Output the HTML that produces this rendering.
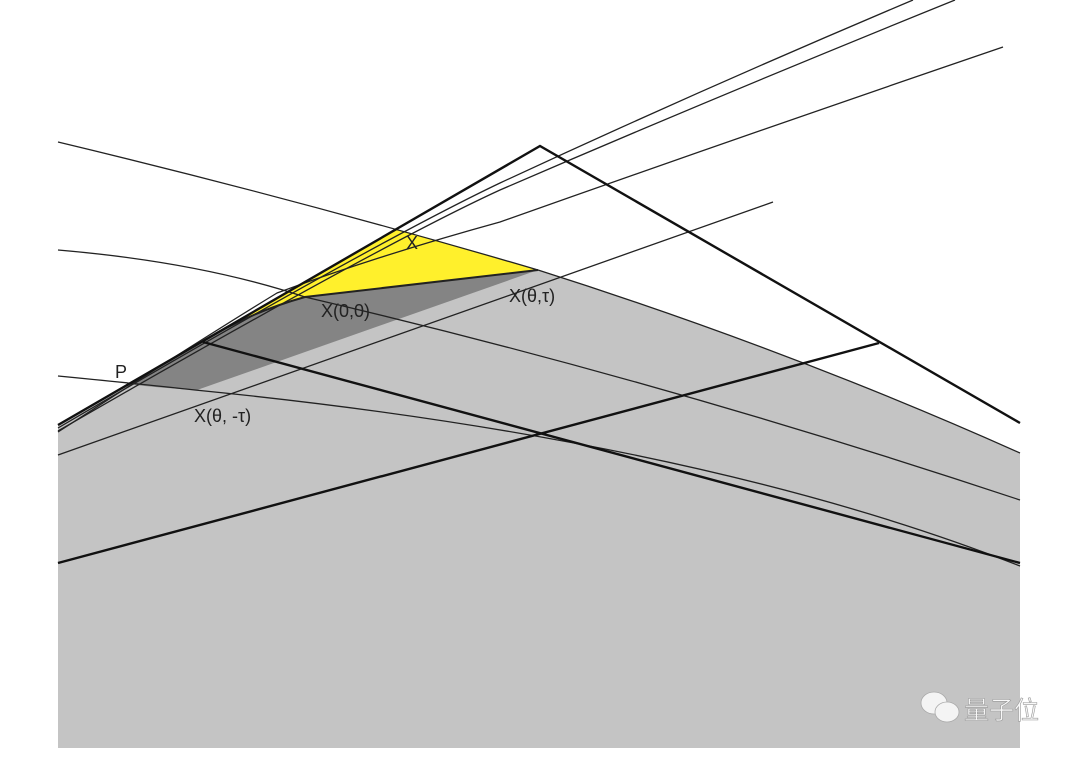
<!DOCTYPE html>
<html><head><meta charset="utf-8"><style>
html,body{margin:0;padding:0;background:#fff;}
svg{display:block;}
text{font-family:"Liberation Sans","DejaVu Sans",sans-serif;font-size:18px;fill:#222;}
</style></head><body>
<svg width="1080" height="757" viewBox="0 0 1080 757" xmlns="http://www.w3.org/2000/svg">
<path d="M58,425 L215,334 Q258,310 305,297 L538,270 Q790,350 1020,453 L1020,748 L58,748 Z" fill="#c4c4c4"/>
<path d="M127,384 L215,334 Q258,310 305,297 L538,270 L197,390 Q160,388 127,384 Z" fill="#848484"/>
<path d="M215,334 L395,229 Q470,250 538,270 L305,297 Q258,310 215,334 Z" fill="#fff02c"/>
<g fill="none" stroke="#222" stroke-width="1.3">
<path d="M58,142 Q300,200 538,270 Q790,350 1020,453"/>
<path d="M58,250 Q200,262 305,297 Q660,380 1020,500"/>
<path d="M58,376 Q150,385 195,390 Q700,440 1020,566"/>
<path d="M58,428 Q370,245 500,183 Q700,90 913,0"/>
<path d="M58,431 Q380,245 500,190 Q720,95 955,0"/>
<path d="M58,432 Q200,340 277,293 Q380,255 500,222 Q760,130 1003,47"/>
<path d="M58,455 L773,202"/>
<path d="M215,334 Q258,310 305,297 L538,270" stroke-width="2"/>
</g>
<g fill="none" stroke="#111" stroke-width="2.4">
<path d="M58,425 L540,146 L1020,423"/>
<path d="M203,342 L1020,563"/>
<path d="M58,563 L879,343"/>
</g>
<text x="406" y="249">X</text>
<text x="321" y="317">X(0,0)</text>
<text x="509" y="302">X(θ,τ)</text>
<text x="115" y="378">P</text>
<text x="194" y="422">X(θ, -τ)</text>
<g fill="#f4f4f4" stroke="#aaa" stroke-width="0.8">
<ellipse cx="934" cy="703" rx="13" ry="11"/>
<ellipse cx="947" cy="712" rx="12" ry="10"/>
</g>
<text x="964" y="719" style="font-family:'Liberation Sans','Noto Sans CJK SC',sans-serif;font-size:25px;fill:#f8f8f8;stroke:#999;stroke-width:0.6">量子位</text>
</svg>
</body></html>
